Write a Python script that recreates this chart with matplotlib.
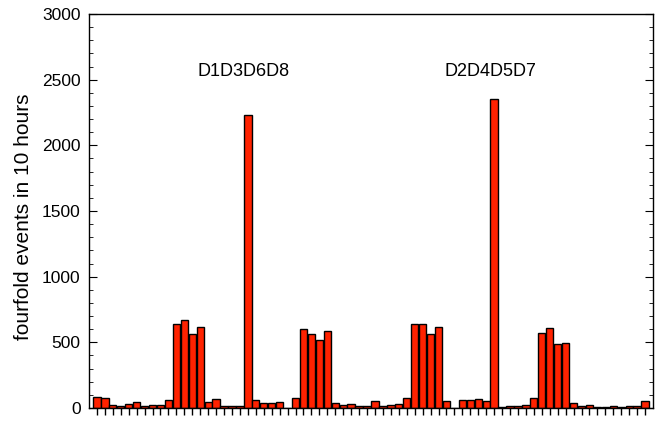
import numpy as np
import matplotlib.pyplot as plt
from matplotlib.ticker import MultipleLocator

plt.rcParams['font.family'] = ['Liberation Sans', 'DejaVu Sans']

# fourfold coincidence counts, one per detector combination
counts = [84, 78, 20, 12, 27, 43, 12, 23, 23, 63,
          640, 672, 566, 619, 43, 71, 18, 16, 13, 2230,
          62, 38, 38, 48, 0, 76, 600, 560, 520, 583,
          38, 23, 28, 18, 12, 50, 12, 20, 27, 78,
          640, 640, 560, 615, 53, 0, 58, 58, 68, 53,
          2350, 5, 15, 12, 23, 78, 570, 608, 486, 494,
          38, 15, 23, 8, 8, 15, 8, 15, 15, 50]
peak_labels = ['D1D3D6D8', 'D2D4D5D7']
peak_index = [19, 50]

x = np.arange(len(counts))

fig = plt.figure(figsize=(6.66, 4.22), dpi=100)
ax = fig.add_axes([89 / 666, 14 / 422, 564 / 666, 394 / 422])

ax.bar(x, counts, width=0.92, color='#ff2200', edgecolor='black', linewidth=1.0)

for lab, i in zip(peak_labels, peak_index):
    ax.text(x[i] - 0.5, 2560, lab, ha='center', va='center', fontsize=13)

ax.set_xlim(-1, len(counts))
ax.set_ylim(0, 3000)
ax.set_xticks(x)
ax.set_xticklabels([])
ax.tick_params(axis='x', direction='out', length=5, width=1)

ax.yaxis.set_major_locator(MultipleLocator(500))
ax.yaxis.set_minor_locator(MultipleLocator(100))
ax.tick_params(axis='y', which='both', direction='in', right=True, labelsize=12.5, pad=6)
ax.tick_params(axis='y', which='major', length=6)
ax.tick_params(axis='y', which='minor', length=3)
ax.set_ylabel('fourfold events in 10 hours', fontsize=15)
ax.yaxis.set_label_coords(-0.1, 0.485)

for s in ax.spines.values():
    s.set_linewidth(1.0)

fig.savefig('out.png', dpi=100)
